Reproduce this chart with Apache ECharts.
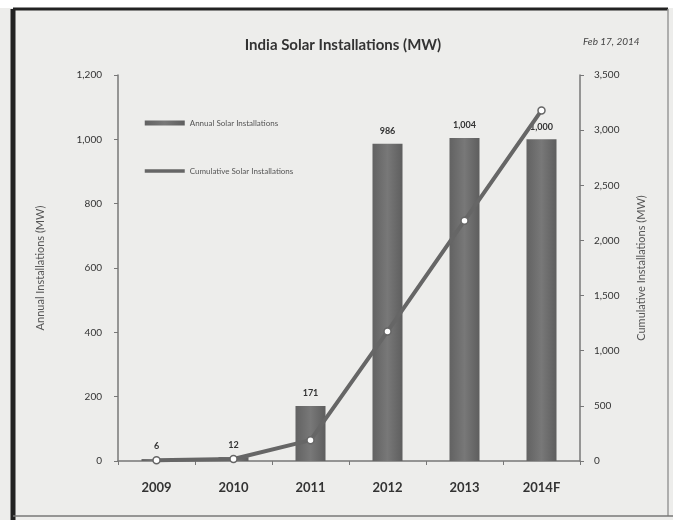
<!DOCTYPE html>
<html><head><meta charset="utf-8">
<script src="https://cdn.jsdelivr.net/npm/echarts@6/dist/echarts.min.js"></script>
<style>html,body{margin:0;padding:0;background:#fff}#c{width:673px;height:520px}</style>
</head><body><div id="c"></div>
<script>
const categories = ['2009','2010','2011','2012','2013','2014F'];
const annual = [6, 12, 171, 986, 1004, 1000];
const cumulative = [6, 18, 189, 1175, 2179, 3179];
const leftTicks = [0, 200, 400, 600, 800, 1000, 1200];
const rightTicks = [0, 500, 1000, 1500, 2000, 2500, 3000, 3500];

const chart = echarts.init(document.getElementById('c'));
const fmt = v => v.toLocaleString('en-US');
chart.setOption({
  backgroundColor: '#ededeb',
  textStyle: {fontFamily: 'Lato'},
  animation: false,
  graphic: [
    {type:'rect', shape:{x:0,y:0,width:673,height:8}, style:{fill:'#ffffff'}, z:-1},
    {type:'line', shape:{x1:13,y1:9,x2:668,y2:9}, style:{stroke:'#222',lineWidth:3}},
    {type:'line', shape:{x1:13,y1:9,x2:13,y2:520}, style:{stroke:'#222',lineWidth:5}},
    {type:'line', shape:{x1:668,y1:9,x2:668,y2:516}, style:{stroke:'#999',lineWidth:1.5}},
    {type:'line', shape:{x1:13,y1:516,x2:673,y2:516}, style:{stroke:'#777',lineWidth:1.5}},
    {type:'text', left:583, top:37, style:{text:'Feb 17, 2014', font:'italic 10px Lato', fill:'#444'}}
  ],
  title: {text:'India Solar Installations (MW)', left:338, top:33, textAlign:'center',
    textStyle:{fontSize:15, fontWeight:'bold', color:'#333', fontFamily:'Lato'}},
  legend: {orient:'vertical', left:138, top:114, itemGap:40, itemWidth:40, itemHeight:5,
    textStyle:{fontSize:8, color:'#555'},
    data:[{name:'Annual Solar Installations', icon:'rect'},
          {name:'Cumulative Solar Installations', itemStyle:{opacity:0}, lineStyle:{width:3.5}}]},
  grid: {left:118, right:93, top:75, bottom:59},
  xAxis: {type:'category', data:categories,
    axisLine:{lineStyle:{color:'#777', width:1.5}},
    axisTick:{show:true, alignWithLabel:false, length:4, lineStyle:{color:'#777'}},
    axisLabel:{fontSize:13, color:'#333', margin:20, fontWeight:'bold'}},
  yAxis: [
    {type:'value', min:0, max:1200, interval:200, position:'left',
     name:'Annual Installations (MW)', nameLocation:'middle', nameGap:72, nameRotate:90,
     nameTextStyle:{fontSize:11, color:'#555'},
     axisLine:{show:true, lineStyle:{color:'#777', width:1.5}},
     axisTick:{show:true, length:4, lineStyle:{color:'#777'}},
     splitLine:{show:false},
     axisLabel:{fontSize:10, color:'#333', margin:16, formatter:fmt}},
    {type:'value', min:0, max:3500, interval:500, position:'right',
     name:'Cumulative Installations (MW)', nameLocation:'middle', nameGap:56, nameRotate:90,
     nameTextStyle:{fontSize:11, color:'#555'},
     axisLine:{show:true, lineStyle:{color:'#777', width:1.5}},
     axisTick:{show:true, length:4, lineStyle:{color:'#777'}},
     splitLine:{show:false},
     axisLabel:{fontSize:10, color:'#333', margin:14, formatter:fmt}}
  ],
  series: [
    {name:'Annual Solar Installations', type:'bar', data:annual, barWidth:30, yAxisIndex:0,
     itemStyle:{color:new echarts.graphic.LinearGradient(0,0,1,0,[
       {offset:0,color:'#626262'},{offset:0.5,color:'#787878'},{offset:1,color:'#5e5e5e'}])},
     label:{show:true, position:'top', distance:8, fontSize:9, fontWeight:'bold', color:'#333', formatter:p=>fmt(p.value)}},
    {name:'Cumulative Solar Installations', type:'line', data:cumulative, yAxisIndex:1,
     lineStyle:{color:'#666', width:4}, itemStyle:{color:'#fff', borderColor:'#666', borderWidth:1.5},
     symbol:'circle', symbolSize:7, showAllSymbol:true, z:5}
  ]
});
</script></body></html>
